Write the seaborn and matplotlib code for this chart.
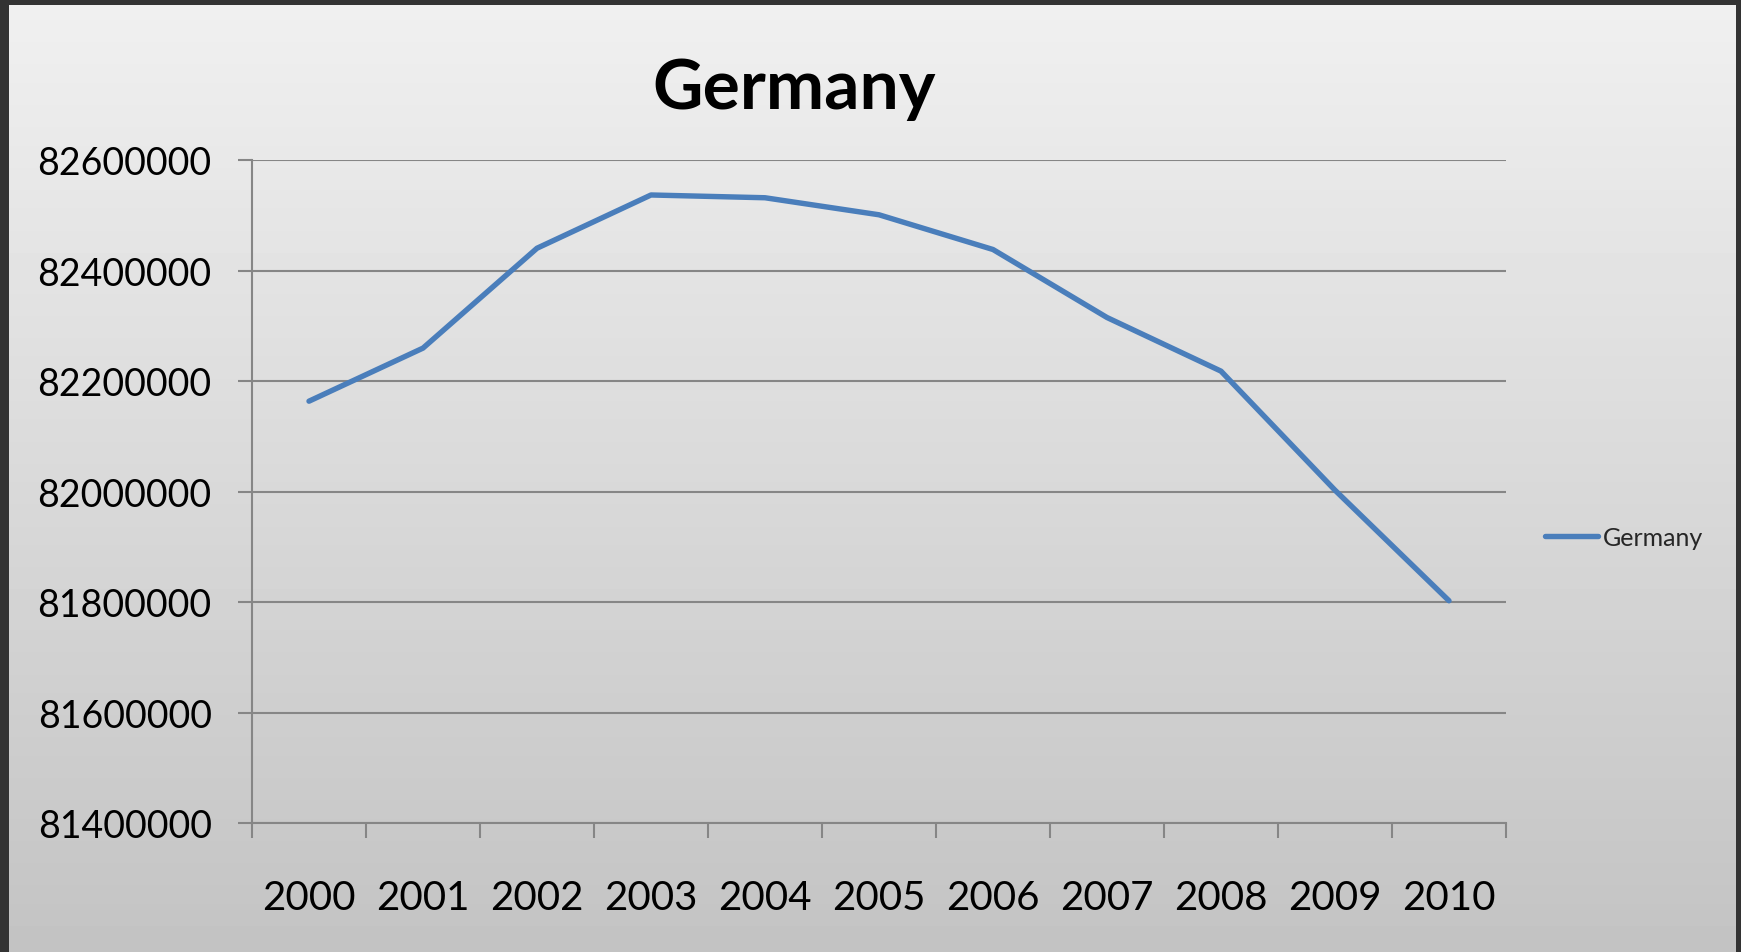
import numpy as np
import pandas as pd
import matplotlib
matplotlib.use("Agg")
import matplotlib.pyplot as plt
import seaborn as sns
from matplotlib.ticker import FixedLocator, FuncFormatter

# data (population, Germany)
years = ["2000", "2001", "2002", "2003", "2004", "2005",
         "2006", "2007", "2008", "2009", "2010"]
population = [82163475, 82259540, 82440309, 82536680, 82531671, 82500849,
              82437995, 82314906, 82217837, 82002356, 81802257]
y_ticks = [81400000, 81600000, 81800000, 82000000, 82200000, 82400000, 82600000]

series_name = "Germany"
line_color = "#4a7ebb"
grid_color = "#868686"

sns.set_style("white")
plt.rcParams["font.family"] = ["Lato", "DejaVu Sans"]

W, H = 1741, 953
fig = plt.figure(figsize=(W / 100, H / 100), dpi=100)
fig.patch.set_facecolor("#333333")

# gradient background inside the dark frame
bg = fig.add_axes([9 / W, 0, (1736 - 9) / W, 1 - 6 / H], zorder=0)
grad = np.linspace(0.94, 0.765, 256).reshape(-1, 1)
bg.imshow(grad, aspect="auto", cmap="gray", vmin=0, vmax=1, extent=[0, 1, 0, 1])
bg.set_axis_off()

ax = fig.add_axes([252 / W, 1 - 824 / H, (1506 - 252) / W, (824 - 161) / H], zorder=1)
ax.patch.set_alpha(0)

df = pd.DataFrame({"year": years, "population": population})
df["pos"] = np.arange(len(years))
sns.lineplot(data=df, x="pos", y="population", ax=ax, color=line_color,
             linewidth=3.9, label=series_name, sort=False)

ax.set_xlim(-0.5, len(years) - 0.5)
ax.set_ylim(y_ticks[0], y_ticks[-1])
ax.yaxis.set_major_locator(FixedLocator(y_ticks))
ax.yaxis.set_major_formatter(FuncFormatter(lambda v, p: f"{int(round(v))}"))
ax.grid(axis="y", color=grid_color, linewidth=1.5)
ax.set_axisbelow(True)

# category boundaries as major ticks, labels on minor ticks at the centres
ax.xaxis.set_major_locator(FixedLocator(np.arange(-0.5, len(years), 1.0)))
ax.xaxis.set_major_formatter(FuncFormatter(lambda v, p: ""))
ax.xaxis.set_minor_locator(FixedLocator(df["pos"].tolist()))
ax.set_xticklabels(years, minor=True)

ax.tick_params(axis="x", which="major", direction="out", length=11, width=1.5,
               color=grid_color, bottom=True)
ax.tick_params(axis="x", which="minor", length=0, labelsize=29, pad=40,
               labelcolor="black")
ax.tick_params(axis="y", direction="out", length=10, width=1.5, color=grid_color,
               left=True, labelsize=27, pad=19, labelcolor="black")

for side in ["top", "right"]:
    ax.spines[side].set_visible(False)
for side in ["left", "bottom"]:
    ax.spines[side].set_color(grid_color)
    ax.spines[side].set_linewidth(1.5)

ax.set_xlabel("")
ax.set_ylabel("")
ax.get_legend().remove()

handles, labels = ax.get_legend_handles_labels()
fig.legend(handles, labels, loc="center left",
           bbox_to_anchor=(1545 / W, 1 - 538 / H), frameon=False,
           fontsize=18, handlelength=2.1, handletextpad=0.2,
           borderpad=0, borderaxespad=0)

fig.text(794 / W, 1 - 109 / H, "Germany", ha="center", va="baseline",
         fontsize=50, fontweight="bold", color="black")

fig.savefig("out.png", dpi=100, facecolor=fig.get_facecolor())
